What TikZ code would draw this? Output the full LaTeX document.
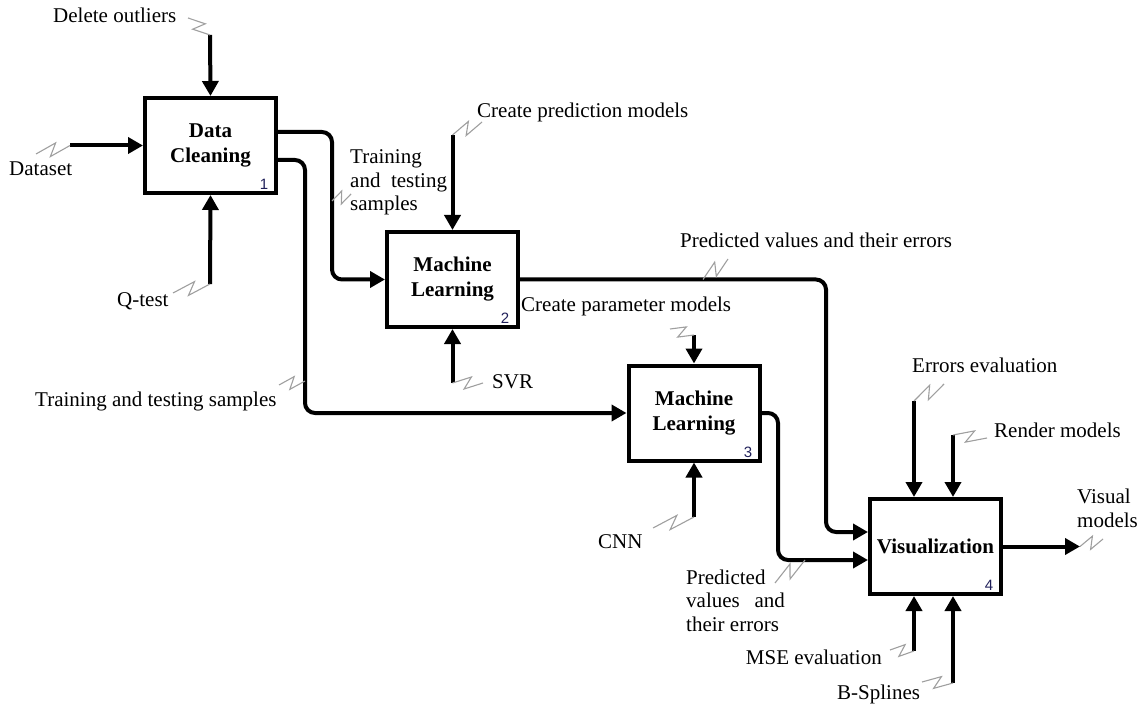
\documentclass[tikz,border=0pt]{standalone}
\usepackage{fontspec}
\setmainfont{Liberation Serif}
\setsansfont{Liberation Sans}
\usetikzlibrary{arrows.meta,calc}
\definecolor{numcol}{rgb}{0.12,0.12,0.35}
\begin{document}
\begin{tikzpicture}[x=1pt,y=-1pt,
  every node/.style={inner sep=0pt},
  lbl/.style={anchor=base west, align=left, font=\fontsize{21}{23.5}\selectfont},
  box/.style={draw, line width=4pt, minimum width=131pt, minimum height=95pt, align=center, font=\fontsize{21}{25}\selectfont\bfseries},
  num/.style={font=\fontsize{15}{15}\selectfont\sffamily, text=numcol},
  arr/.style={line width=4pt, rounded corners=10pt, -{Triangle[length=15pt,width=16pt]}},
  squig/.style={draw=gray!75, line width=1.1pt, to path={-- ($(\tikztostart)!0.62!(\tikztotarget)!6pt!90:(\tikztotarget)$) -- ($(\tikztostart)!0.38!(\tikztotarget)!6pt!-90:(\tikztotarget)$) -- (\tikztotarget)}}
]
\useasboundingbox (0,0) rectangle (1142,708);

% boxes
\node[box] (b1) at (210.5,145.5) {Data\\Cleaning};
\node[box] (b2) at (452.5,279.5) {Machine\\Learning};
\node[box] (b3) at (694,413) {Machine\\Learning};
\node[box] (b4) at (935.5,546.5) {Visualization};
\node[num] (n1) at (264,184) {1};
\node[num] (n2) at (505,318) {2};
\node[num] (n3) at (748,452) {3};
\node[num] (n4) at (989,585) {4};

% labels
\node[lbl] (tdel) at (53,23) {Delete outliers};
\node[lbl] (tds) at (9,176) {Dataset};
\node[lbl] (tq) at (117,307) {Q-test};
\node[lbl] (ttr1) at (350,211) {Training\\and\hspace{0.25em} testing\\samples};
\node[lbl] (tcp) at (477,118) {Create prediction models};
\node[lbl] (ttr2) at (35,406) {Training and testing samples};
\node[lbl] (tsvr) at (492,388) {SVR};
\node[lbl] (tpv1) at (680,248) {Predicted values and their errors};
\node[lbl] (tcpm) at (521,312) {Create parameter models};
\node[lbl] (tcnn) at (598,548) {CNN};
\node[lbl] (tpv2) at (686,631) {Predicted\\values\hspace{0.45em} and\\their errors};
\node[lbl] (tee) at (912,372) {Errors evaluation};
\node[lbl] (trm) at (994,437) {Render models};
\node[lbl] (tvm) at (1077,527) {Visual\\models};
\node[lbl, anchor=base east] (tmse) at (882,664) {MSE evaluation};
\node[lbl] (tbs) at (837,699) {B-Splines};

% free ends of arrows
\coordinate (dl) at (210,35);
\coordinate (ds) at (70,145.5);
\coordinate (qt) at (210,284);
\coordinate (cp) at (452.5,135);
\coordinate (svr) at (452.5,383);
\coordinate (cpm) at (694,335);
\coordinate (cnn) at (694,517);
\coordinate (ee) at (914,401);
\coordinate (rm) at (953,435);
\coordinate (mse) at (914,651);
\coordinate (bs) at (953,683);
\coordinate (vm) at (1080,546.5);
% bends
\coordinate (k1) at (332,132);
\coordinate (k2) at (305,160);
\coordinate (k3) at (826,279.5);
\coordinate (k4) at (778,413);
\coordinate (j1) at ($(b4.west)+(0,-14.5)$);
\coordinate (j2) at ($(b4.west)+(0,13.5)$);

% arrows
\draw[arr] (dl) -- (b1.north);
\draw[arr] (ds) -- (b1.west);
\draw[arr] (qt) -- (b1.south);
\draw[arr] (b1.east |- k1) -- (k1) -- (k1 |- b2.west) -- (b2.west);
\draw[arr] (b1.east |- k2) -- (k2) -- (k2 |- b3.west) -- (b3.west);
\draw[arr] (cp) -- (b2.north);
\draw[arr] (svr) -- (b2.south);
\draw[arr] (b2.east) -- (k3) -- (k3 |- j1) -- (j1);
\draw[arr] (cpm) -- (b3.north);
\draw[arr] (cnn) -- (b3.south);
\draw[arr] (b3.east) -- (k4) -- (k4 |- j2) -- (j2);
\draw[arr] (ee) -- (ee |- b4.north);
\draw[arr] (rm) -- (rm |- b4.north);
\draw[arr] (mse) -- (mse |- b4.south);
\draw[arr] (bs) -- (bs |- b4.south);
\draw[arr] (b4.east) -- (vm);

% squiggles
\coordinate (q1) at (188,18);
\coordinate (q2) at (36,154);
\coordinate (q3) at (173,293);
\coordinate (q4) at (351,194);  \coordinate (p4) at (332,201);
\coordinate (q5) at (482,122);
\coordinate (q6) at (279,385);  \coordinate (p6) at (305,381);
\coordinate (q7) at (483,383);
\coordinate (q8) at (728,259);  \coordinate (p8) at (703,279.5);
\coordinate (q9) at (670,329);
\coordinate (q10) at (653,528);
\coordinate (q11) at (775,583); \coordinate (p11) at (805,560);
\coordinate (q12) at (944,384);
\coordinate (q13) at (987,438);
\coordinate (q14) at (1103,539);
\coordinate (q15) at (890,650);
\coordinate (q16) at (922,682);
\draw[squig] (q1) to (dl);
\draw[squig] (q2) to (ds);
\draw[squig] (q3) to (qt);
\draw[squig] (q4) to (p4);
\draw[squig] (q5) to (cp);
\draw[squig] (q6) to (p6);
\draw[squig] (q7) to (svr);
\draw[squig] (q8) to (p8);
\draw[squig] (q9) to (cpm);
\draw[squig] (q10) to (cnn);
\draw[squig] (q11) to (p11);
\draw[squig] (q12) to (ee);
\draw[squig] (q13) to (rm);
\draw[squig] (q14) to (vm);
\draw[squig] (q15) to (mse);
\draw[squig] (q16) to (bs);
\end{tikzpicture}
\end{document}
